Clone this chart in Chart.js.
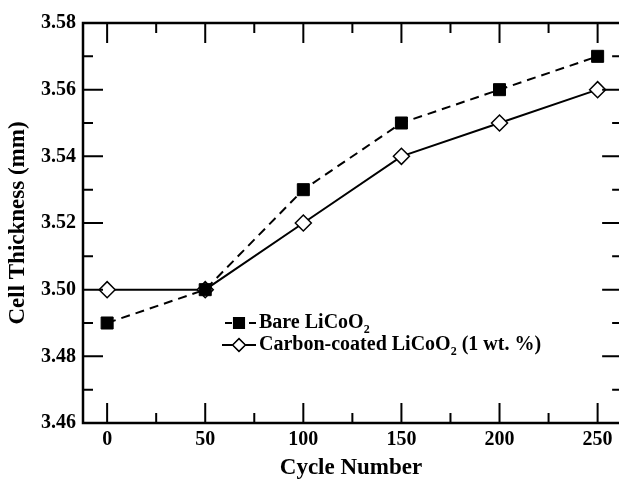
<!DOCTYPE html>
<html>
<head>
<meta charset="utf-8">
<script src="https://cdn.jsdelivr.net/npm/chart.js@4.4.1/dist/chart.umd.min.js"></script>
<style>
  html, body { margin: 0; padding: 0; background: #fff; overflow: hidden; }
  #c { display: block; }
</style>
</head>
<body>
<canvas id="c" width="619" height="486" style="width:619px;height:486px"></canvas>
<script>
const cycles = [0, 50, 100, 150, 200, 250];
const bareLiCoO2 = [3.49, 3.50, 3.53, 3.55, 3.56, 3.57];
const carbonCoated = [3.50, 3.50, 3.52, 3.54, 3.55, 3.56];
const xMajorTicks = [0, 50, 100, 150, 200, 250];
const xMinorTicks = [25, 75, 125, 175, 225];
const yMajorTicks = [3.46, 3.48, 3.50, 3.52, 3.54, 3.56, 3.58];
const yMinorTicks = [3.47, 3.49, 3.51, 3.53, 3.55, 3.57];
const seriesNames = ['Bare LiCoO', 'Carbon-coated LiCoO'];
const seriesSuffix = ['', ' (1 wt. %)'];

const FONT = '"Liberation Serif", "Times New Roman", serif';

const framePlugin = {
  id: 'frame',
  afterDatasetsDraw(chart) {
    const {ctx, chartArea: a, scales: {x, y}} = chart;
    ctx.save();
    ctx.strokeStyle = '#000';
    ctx.lineWidth = 2;
    ctx.beginPath();
    xMajorTicks.forEach(v => { const px = x.getPixelForValue(v);
      ctx.moveTo(px, a.bottom); ctx.lineTo(px, a.bottom - 20);
      ctx.moveTo(px, a.top); ctx.lineTo(px, a.top + 20); });
    xMinorTicks.forEach(v => { const px = x.getPixelForValue(v);
      ctx.moveTo(px, a.bottom); ctx.lineTo(px, a.bottom - 10);
      ctx.moveTo(px, a.top); ctx.lineTo(px, a.top + 10); });
    const rx = x.getPixelForValue(262.5); // right spine lies just beyond the visible area
    yMajorTicks.forEach(v => { const py = y.getPixelForValue(v);
      ctx.moveTo(a.left, py); ctx.lineTo(a.left + 20, py);
      ctx.moveTo(rx, py); ctx.lineTo(rx - 20, py); });
    yMinorTicks.forEach(v => { const py = y.getPixelForValue(v);
      ctx.moveTo(a.left, py); ctx.lineTo(a.left + 10, py);
      ctx.moveTo(rx, py); ctx.lineTo(rx - 10, py); });
    ctx.stroke();
    ctx.lineWidth = 2.5;
    ctx.beginPath();
    ctx.moveTo(chart.width + 2, a.top); ctx.lineTo(a.left, a.top);
    ctx.lineTo(a.left, a.bottom); ctx.lineTo(chart.width + 2, a.bottom);
    ctx.stroke();

    // legend
    const rows = [323, 345];
    const lx0 = 222, lx1 = 256, mx = 239, tx = 259;
    chart.data.datasets.forEach((ds, i) => {
      const yy = rows[i];
      ctx.save();
      ctx.lineWidth = 2;
      ctx.strokeStyle = '#000';
      ctx.beginPath();
      if (ds.borderDash && ds.borderDash.length) {
        ctx.moveTo(lx0 + 3, yy); ctx.lineTo(lx0 + 10, yy);
        ctx.moveTo(lx1 - 7, yy); ctx.lineTo(lx1, yy);
      } else {
        ctx.moveTo(lx0, yy); ctx.lineTo(lx1, yy);
      }
      ctx.stroke();
      ctx.restore();
      Chart.helpers.drawPoint(ctx, {
        pointStyle: ds.pointStyle, radius: ds.pointRadius * 0.8, borderWidth: ds.pointBorderWidth
      }, mx, yy);
      ctx.fillStyle = ds.pointBackgroundColor;
      ctx.strokeStyle = '#000';
      ctx.lineWidth = ds.pointBorderWidth;
      ctx.fill(); ctx.stroke();
      ctx.fillStyle = '#000';
      ctx.textBaseline = 'middle';
      ctx.textAlign = 'left';
      ctx.font = 'bold 20px ' + FONT;
      const main = seriesNames[i];
      ctx.fillText(main, tx, yy);
      let w = ctx.measureText(main).width;
      ctx.font = 'bold 12px ' + FONT;
      ctx.fillText('2', tx + w, yy + 7);
      w += ctx.measureText('2').width;
      ctx.font = 'bold 20px ' + FONT;
      ctx.fillText(seriesSuffix[i], tx + w, yy);
    });
    ctx.restore();
  }
};

new Chart(document.getElementById('c'), {
  type: 'line',
  data: {
    datasets: [
      {
        label: 'Bare LiCoO2',
        data: cycles.map((c, i) => ({x: c, y: bareLiCoO2[i]})),
        borderColor: '#000', borderWidth: 2, borderDash: [9, 6],
        pointStyle: 'rect', pointRadius: 8.5, pointBackgroundColor: '#000',
        pointBorderColor: '#000', pointBorderWidth: 1, tension: 0, fill: false
      },
      {
        label: 'Carbon-coated LiCoO2 (1 wt. %)',
        data: cycles.map((c, i) => ({x: c, y: carbonCoated[i]})),
        borderColor: '#000', borderWidth: 2,
        pointStyle: 'rectRot', pointRadius: 8, pointBackgroundColor: '#fff',
        pointBorderColor: '#000', pointBorderWidth: 1.5, tension: 0, fill: false
      }
    ]
  },
  options: {
    responsive: false,
    maintainAspectRatio: false,
    animation: false,
    devicePixelRatio: 1,
    layout: { autoPadding: false, padding: { top: 23, right: 0, left: 0, bottom: 0 } },
    plugins: { legend: { display: false }, tooltip: { enabled: false } },
    scales: {
      x: {
        type: 'linear', min: -12.3, max: 260.9,
        afterBuildTicks: s => { s.ticks = xMajorTicks.map(v => ({value: v})); },
        afterFit: s => { s.height = 63; s.paddingLeft = 0; s.paddingRight = 0; },
        grid: { display: false, drawTicks: false },
        border: { display: false },
        ticks: { color: '#000', padding: 5, font: { family: FONT, size: 20, weight: 'bold' },
                 maxRotation: 0, autoSkip: false },
        title: { display: true, text: 'Cycle Number', color: '#000',
                 font: { family: FONT, size: 23, weight: 'bold' }, padding: { top: 0, bottom: 4 } }
      },
      y: {
        type: 'linear', min: 3.46, max: 3.58,
        afterBuildTicks: s => { s.ticks = yMajorTicks.map(v => ({value: v})); },
        afterFit: s => { s.width = 83; s.paddingTop = 0; s.paddingBottom = 0; },
        grid: { display: false, drawTicks: false },
        border: { display: false },
        ticks: { color: '#000', padding: 7, font: { family: FONT, size: 20, weight: 'bold' },
                 callback: v => Number(v).toFixed(2) },
        title: { display: true, text: 'Cell Thickness (mm)', color: '#000',
                 font: { family: FONT, size: 23, weight: 'bold' }, padding: { top: 4, bottom: 0 } }
      }
    }
  },
  plugins: [framePlugin]
});
</script>
</body>
</html>
